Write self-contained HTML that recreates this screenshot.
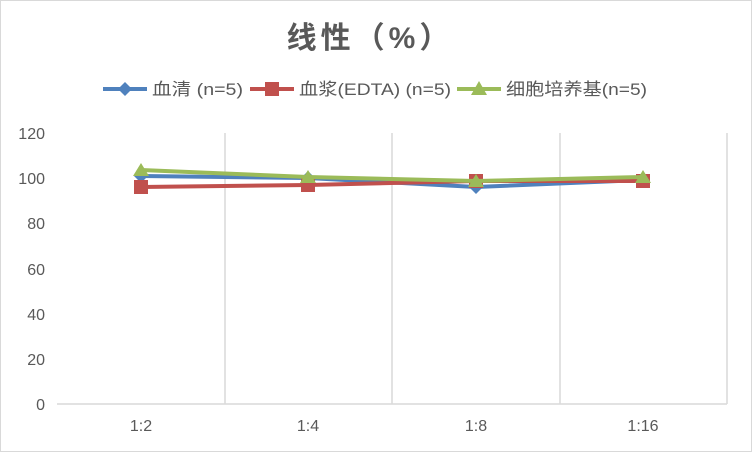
<!DOCTYPE html><html><head><meta charset="utf-8"><style>body{margin:0;background:#fff}svg{display:block}text{font-family:"Liberation Sans","Noto Sans CJK SC",sans-serif;fill:#595959}</style></head><body>
<svg width="752" height="452" viewBox="0 0 752 452">
<rect x="0.5" y="0.5" width="751" height="451" fill="#fff" stroke="#d9d9d9"/>
<text x="370" y="48" text-anchor="middle" font-size="30" font-weight="bold" letter-spacing="4">线性（%）</text>
<g font-size="17">
<line x1="103" y1="89" x2="147" y2="89" stroke="#4f81bd" stroke-width="4"/><path d="M125 82l7 7-7 7-7-7z" fill="#4f81bd"/><text x="152" y="95" textLength="91" lengthAdjust="spacingAndGlyphs">血清 (n=5)</text>
<line x1="250" y1="89" x2="294" y2="89" stroke="#c0504d" stroke-width="4"/><rect x="265" y="82" width="14" height="14" fill="#c0504d"/><text x="299" y="95" textLength="152" lengthAdjust="spacingAndGlyphs">血浆(EDTA) (n=5)</text>
<line x1="457" y1="89" x2="501" y2="89" stroke="#9bbb59" stroke-width="4"/><path d="M479 81l8 14h-16z" fill="#9bbb59"/><text x="506" y="95" textLength="141" lengthAdjust="spacingAndGlyphs">细胞培养基(n=5)</text>
</g>
<g stroke="#d9d9d9" stroke-width="1.5"><line x1="225" y1="133" x2="225" y2="404"/><line x1="392" y1="133" x2="392" y2="404"/><line x1="560" y1="133" x2="560" y2="404"/><line x1="727" y1="133" x2="727" y2="404"/><line x1="57" y1="404" x2="727" y2="404"/></g>
<g font-size="16" text-anchor="end"><text x="45" y="410">0</text><text x="45" y="365">20</text><text x="45" y="320">40</text><text x="45" y="275">60</text><text x="45" y="229">80</text><text x="45" y="184">100</text><text x="45" y="139">120</text></g>
<g font-size="16" text-anchor="middle"><text x="141" y="431">1:2</text><text x="308" y="431">1:4</text><text x="476" y="431">1:8</text><text x="643" y="431">1:16</text></g>
<polyline points="141,176 308,178 476,187 643,180" fill="none" stroke="#4f81bd" stroke-width="4"/>
<g fill="#4f81bd"><path d="M141 169l7 7-7 7-7-7z"/><path d="M308 171l7 7-7 7-7-7z"/><path d="M476 180l7 7-7 7-7-7z"/><path d="M643 173l7 7-7 7-7-7z"/></g>
<polyline points="141,187 308,185 476,181 643,181" fill="none" stroke="#c0504d" stroke-width="4"/>
<g fill="#c0504d"><rect x="134" y="180" width="14" height="14"/><rect x="301" y="178" width="14" height="14"/><rect x="469" y="174" width="14" height="14"/><rect x="636" y="174" width="14" height="14"/></g>
<polyline points="141,170 308,177 476,181 643,177" fill="none" stroke="#9bbb59" stroke-width="4"/>
<g fill="#9bbb59"><path d="M141 163l8 13h-16z"/><path d="M308 170l8 13h-16z"/><path d="M476 174l8 13h-16z"/><path d="M643 170l8 13h-16z"/></g>
</svg></body></html>
